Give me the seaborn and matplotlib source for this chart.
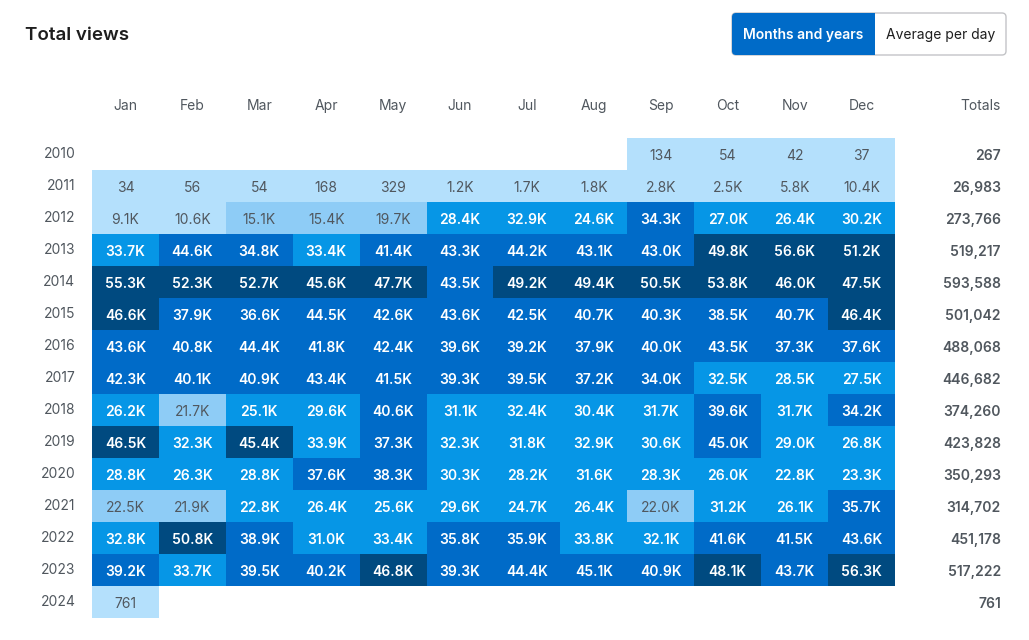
import numpy as np
import pandas as pd
import seaborn as sns
import matplotlib.pyplot as plt
from matplotlib.colors import ListedColormap, BoundaryNorm
from matplotlib.patches import FancyBboxPatch, Rectangle

months = ['Jan', 'Feb', 'Mar', 'Apr', 'May', 'Jun', 'Jul', 'Aug', 'Sep', 'Oct', 'Nov', 'Dec']
years = [str(y) for y in range(2010, 2025)]
nan = np.nan

# monthly views
v2010 = [nan, nan, nan, nan, nan, nan, nan, nan, 134, 54, 42, 37]
v2011 = [34, 56, 54, 168, 329, 1200, 1700, 1800, 2800, 2500, 5800, 10400]
v2012 = [9100, 10600, 15100, 15400, 19700, 28400, 32900, 24600, 34300, 27000, 26400, 30200]
v2013 = [33700, 44600, 34800, 33400, 41400, 43300, 44200, 43100, 43000, 49800, 56600, 51200]
v2014 = [55300, 52300, 52700, 45600, 47700, 43500, 49200, 49400, 50500, 53800, 46000, 47500]
v2015 = [46600, 37900, 36600, 44500, 42600, 43600, 42500, 40700, 40300, 38500, 40700, 46400]
v2016 = [43600, 40800, 44400, 41800, 42400, 39600, 39200, 37900, 40000, 43500, 37300, 37600]
v2017 = [42300, 40100, 40900, 43400, 41500, 39300, 39500, 37200, 34000, 32500, 28500, 27500]
v2018 = [26200, 21700, 25100, 29600, 40600, 31100, 32400, 30400, 31700, 39600, 31700, 34200]
v2019 = [46500, 32300, 45400, 33900, 37300, 32300, 31800, 32900, 30600, 45000, 29000, 26800]
v2020 = [28800, 26300, 28800, 37600, 38300, 30300, 28200, 31600, 28300, 26000, 22800, 23300]
v2021 = [22500, 21900, 22800, 26400, 25600, 29600, 24700, 26400, 22000, 31200, 26100, 35700]
v2022 = [32800, 50800, 38900, 31000, 33400, 35800, 35900, 33800, 32100, 41600, 41500, 43600]
v2023 = [39200, 33700, 39500, 40200, 46800, 39300, 44400, 45100, 40900, 48100, 43700, 56300]
v2024 = [761, nan, nan, nan, nan, nan, nan, nan, nan, nan, nan, nan]

totals = [267, 26983, 273766, 519217, 593588, 501042, 488068, 446682,
          374260, 423828, 350293, 314702, 451178, 517222, 761]

rows = [v2010, v2011, v2012, v2013, v2014, v2015, v2016, v2017,
        v2018, v2019, v2020, v2021, v2022, v2023, v2024]
df = pd.DataFrame(rows, index=years, columns=months)


def fmt(v):
    if np.isnan(v):
        return ''
    if v < 1000:
        return f'{int(v)}'
    return f'{v / 1000:.1f}K'


labels = df.apply(lambda col: col.map(fmt))

colors = ['#b4e0fc', '#8eccf6', '#0696e6', '#006bc8', '#004a80']
cmap = ListedColormap(colors)
norm = BoundaryNorm([0, 12000, 22600, 33950, 45200, 1e7], cmap.N)

plt.rcParams['font.family'] = ['Inter', 'DejaVu Sans']
fig = plt.figure(figsize=(10.29, 6.4), dpi=100)

# pixel-space background axes for title and buttons
bg = fig.add_axes([0, 0, 1, 1], zorder=0)
bg.set_xlim(0, 1029)
bg.set_ylim(640, 0)
bg.axis('off')
bg.text(25, 36, 'Total views', fontsize=13.5, weight='semibold', color='#1e1e1e',
        ha='left', va='center')
bg.add_patch(FancyBboxPatch((732, 13), 274, 42, boxstyle='round,pad=0,rounding_size=4',
                            facecolor='white', edgecolor='#c3c4c7', linewidth=1))
bg.add_patch(FancyBboxPatch((732, 13), 143, 42, boxstyle='round,pad=0,rounding_size=4',
                            facecolor='#006bc8', edgecolor='none'))
bg.add_patch(Rectangle((860, 13), 15, 42, facecolor='#006bc8', edgecolor='none'))
bg.text(803.5, 35.5, 'Months and years', fontsize=10, weight='semibold', color='white',
        ha='center', va='center')
bg.text(940.5, 35.5, 'Average per day', fontsize=10, color='#1e1e1e',
        ha='center', va='center')

ax = fig.add_axes([92 / 1029, 1 - 618 / 640, (895 - 92) / 1029, 480 / 640], zorder=1)
sns.heatmap(df, ax=ax, cmap=cmap, norm=norm, annot=labels, fmt='', cbar=False,
            annot_kws={'fontsize': 10}, linewidths=0)

for t in ax.texts:
    x, y = t.get_position()
    v = df.iat[int(y), int(x)]
    t.set_y(y + 0.05)
    if v < 22600:
        t.set_color('#50575e')
        t.set_fontweight('normal')
    else:
        t.set_color('white')
        t.set_fontweight('semibold')

ax.xaxis.tick_top()
ax.set_xticklabels(months, rotation=0, fontsize=10, color='#50575e')
ax.set_yticklabels(years, rotation=0, fontsize=10, color='#50575e')
ax.tick_params(axis='x', length=0, pad=18)
ax.tick_params(axis='y', length=0, pad=12)
for lab in ax.get_yticklabels():
    lab.set_y(lab.get_position()[1])
ax.set_xlabel('')
ax.set_ylabel('')

tx = (1001 - 92) / ((895 - 92) / 12)
ax.text(tx, -1.0, 'Totals', ha='right', va='center', fontsize=10, color='#50575e',
        clip_on=False)
for i, tot in enumerate(totals):
    ax.text(tx, i + 0.55, f'{tot:,}', ha='right', va='center', fontsize=10,
            weight='semibold', color='#50575e', clip_on=False)

fig.savefig('out.png', dpi=100)
